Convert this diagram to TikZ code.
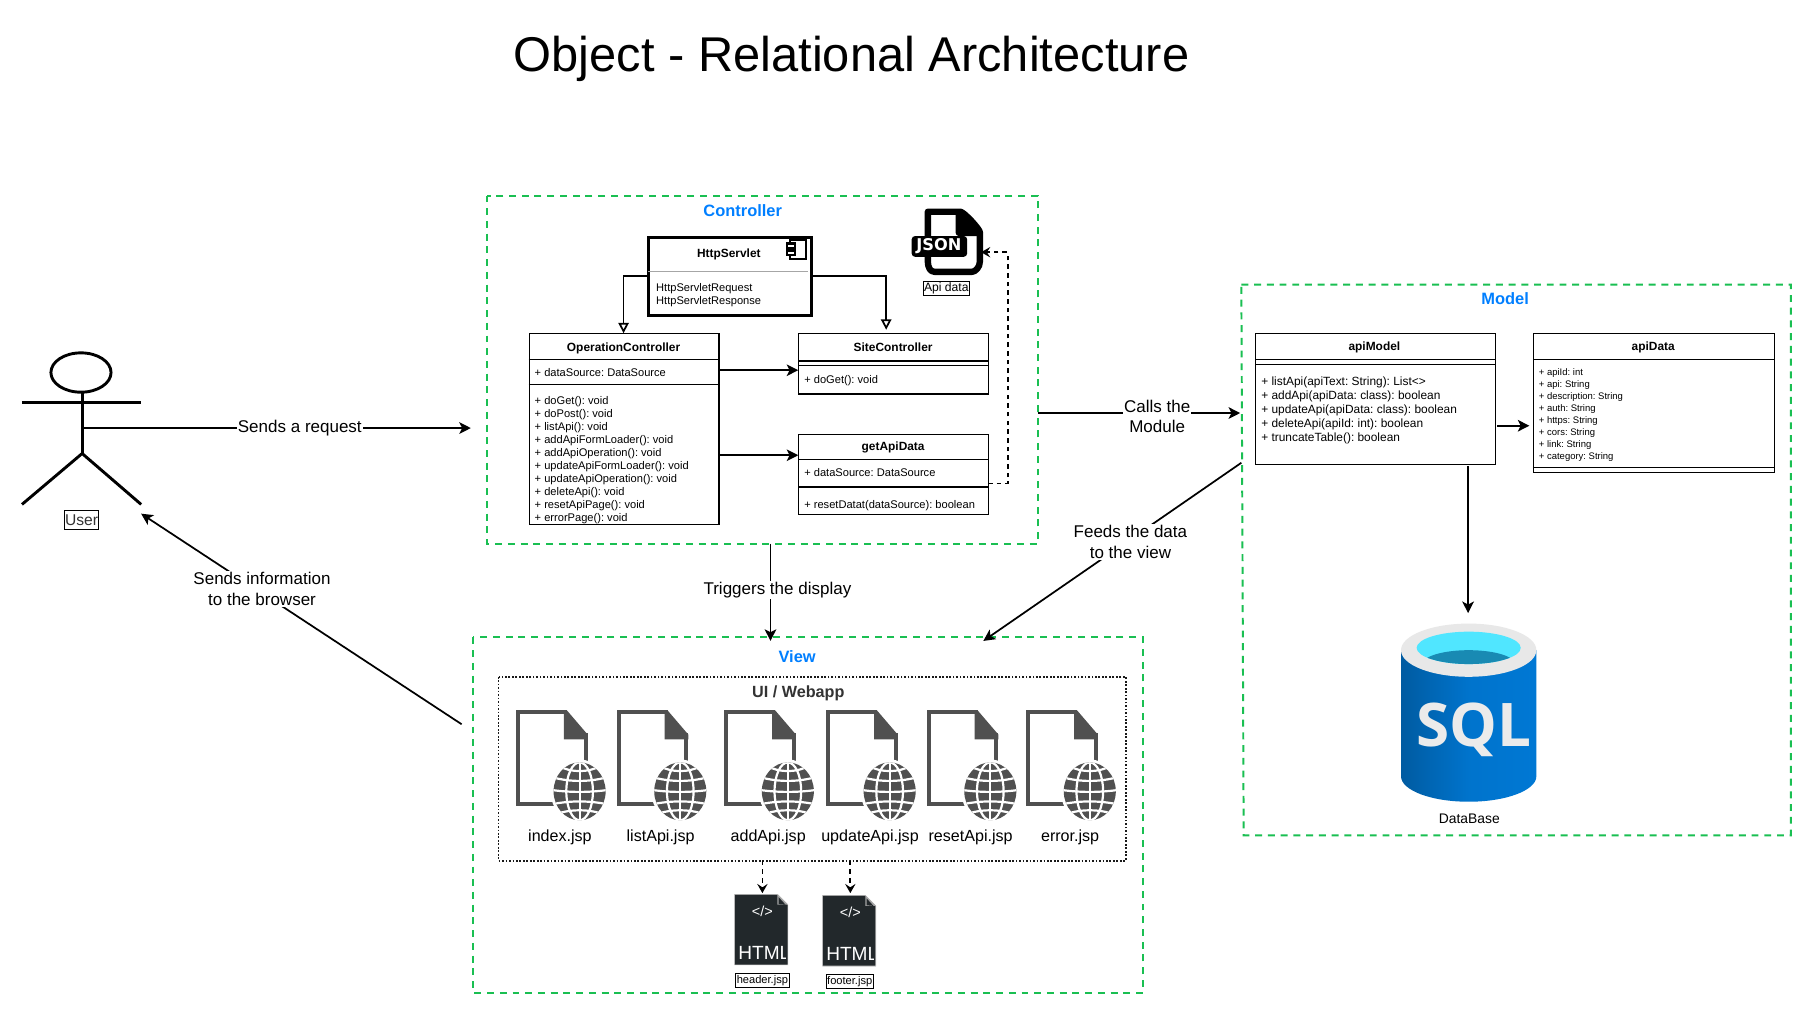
\documentclass[tikz,border=0pt]{standalone}
\usepackage{fontspec}
\setmainfont{Liberation Sans}
\newfontfamily\jsonfont{DejaVu Sans}
\usetikzlibrary{arrows.meta,calc}
\newcommand\fsz[2]{\fontsize{#1}{#2}\selectfont}
\frenchspacing
\definecolor{zgreen}{HTML}{1ABF52}
\definecolor{zblue}{HTML}{007FFF}
\definecolor{zgray}{HTML}{505050}
\definecolor{zdark}{HTML}{22282B}
\definecolor{sqld}{HTML}{005BA1}
\definecolor{sqlm}{HTML}{0078D4}
\definecolor{sqlc}{HTML}{50E6FF}
\definecolor{sqli}{HTML}{198AB3}
\tikzset{
  grp/.style={draw=zgreen,line width=1.7,dash pattern=on 6 off 5},
  grptitle/.style={font=\fsz{14.2}{16}\bfseries,text=zblue,inner sep=0},
  cls/.style={draw=black,line width=1,fill=white,anchor=north west,inner sep=0},
  clstitle/.style={font=\fsz{10.3}{11}\bfseries,inner sep=0},
  members/.style={font=\fsz{9.6}{11.22},inner sep=0,anchor=north west,align=left},
  sepline/.style={line width=1},
  conn/.style={line width=1.5,-{Stealth[length=10,width=10,inset=2.5]}},
  gen/.style={line width=1.5,-{Triangle[open,fill=white,length=9,width=9]}},
  dep/.style={line width=1.5,dash pattern=on 4 off 3.5,-{Stealth[length=8,width=9,inset=3]}},
  lab/.style={font=\fsz{14.7}{18},fill=white,inner sep=1,align=center},
  boxlab/.style={draw=black,line width=0.8,inner sep=0.6,font=\fsz{10.5}{12}},
  jsplab/.style={font=\fsz{13.9}{16},inner sep=0},
  actor/.style={line width=2.5},
  jspicon/.pic={
    \fill[zgray] (41.5,2) -- (44,0) -- (62,21) -- (62,25) -- (41.5,25) -- cycle;
    \draw[zgray,line width=3.5] (60.25,52) -- (60.25,20);
    \draw[zgray,line width=3.5] (44,1.75) -- (1.75,1.75) -- (1.75,81.25) -- (36,81.25);
    \begin{scope}[shift={(55,70)}]
      \fill[white] (0,0) ellipse [x radius=25,y radius=27.5];
      \fill[zgray] (0,0) ellipse [x radius=22.5,y radius=25];
      \begin{scope}
        \clip (0,0) ellipse [x radius=22.5,y radius=25];
        \draw[white,line width=1.9] (0,-25) -- (0,25);
        \draw[white,line width=1.9] (0,0) ellipse [x radius=11.5,y radius=25];
        \draw[white,line width=1.9] (-23,-1) .. controls (-8,1) and (8,1) .. (23,-1);
        \draw[white,line width=1.9] (-23,-12) .. controls (-8,-8) and (8,-8) .. (23,-12);
        \draw[white,line width=1.9] (-23,11) .. controls (-8,8) and (8,8) .. (23,11);
        \draw[white,line width=1.9] (-18,-22) .. controls (-8,-16) and (8,-16) .. (18,-22);
        \draw[white,line width=1.9] (-18,19) .. controls (-8,15.5) and (8,15.5) .. (18,19);
      \end{scope}
    \end{scope}
  },
  htmlicon/.pic={
    \fill[zdark,draw=gray!50,line width=0.5] (0,0) -- (37,0) -- (46,9) -- (46,61) -- (0,61) -- cycle;
    \fill[gray!70!white] (37,0) -- (46,9) -- (37,9) -- cycle;
    \fill[zdark] (38,2.5) -- (44,9) -- (38,8.5) -- cycle;
    \node[white,inner sep=0,font=\fsz{12.5}{13}] (-code) at (24,15) {</>};
    \begin{scope}
      \clip (0,30) rectangle (44,61);
      \node[white,inner sep=0,font=\fsz{16.5}{18},anchor=west] (-txt) at (3,50.5) {HTML};
    \end{scope}
  }
}
\begin{document}
\begin{tikzpicture}[x=1pt,y=-1pt]
\useasboundingbox (0,0) rectangle (1568,879.1);
\fill[white] (0,0) rectangle (1568,879.1);

% title
\node[inner sep=0,font=\fsz{42.2}{48}] (title) at (736,51) {Object - Relational Architecture};

% actor
\draw[actor] (70,322) ellipse [x radius=26,y radius=17];
\coordinate (usr) at (71,370);
\coordinate (usrin) at (122,444);
\draw[actor] (71,339) -- (71,392);
\draw[actor] (19,348) -- (122,348);
\draw[actor] (19,436) -- (71,392) -- (122,436);
\node[boxlab,text=black!80,font=\fsz{13.5}{15},minimum width=29,minimum height=16] (user) at (70.5,449.5) {User};

% group boxes
\draw[grp] (421,169) rectangle (897,470);
\node[grptitle] (ctitle) at (642,182) {Controller};
\coordinate (cb) at (666,470);
\coordinate (cr) at (897,357);
\coordinate (cl) at (407,370);

\draw[grp] (1073,246) -- (1548,246) -- (1548,722) -- (1075,722) -- cycle;
\node[grptitle] (mtitle) at (1301,258) {Model};
\coordinate (ml) at (1072,357);
\coordinate (mf) at (1073,400);

\draw[grp] (409,551) rectangle (988,858);
\node[grptitle] (vtitle) at (689,568) {View};
\coordinate (vt) at (666,554);
\coordinate (vf) at (850,554);
\coordinate (vl) at (399,626);

% HttpServlet
\node[cls,line width=2.6,minimum width=141,minimum height=67] (http) at (559,204) {};
\draw[gray!70,line width=0.8] (560.5,235) -- (698.5,235);
\node[clstitle] (httpt) at (630,220) {HttpServlet};
\node[members] (httpm) at (567,244.5) {HttpServletRequest\\HttpServletResponse};
\draw[black,line width=2,fill=white] (683,207) rectangle (696.5,224);
\draw[black,line width=2,fill=white] (680,210.5) rectangle (687,214.5);
\draw[black,line width=2,fill=white] (680,216.5) rectangle (687,220.5);

% OperationController
\node[cls,minimum width=164,minimum height=165] (op) at (457,288) {};
\node[clstitle] (opt) at (539,301) {OperationController};
\draw[sepline] (457,311) -- (621,311);
\node[members] (opa) at (462,318.5) {+ dataSource: DataSource};
\draw[sepline] (457,332) -- (621,332);
\node[members] (opm) at (462,342.5) {+ doGet(): void\\+ doPost(): void\\+ listApi(): void\\+ addApiFormLoader(): void\\+ addApiOperation(): void\\+ updateApiFormLoader(): void\\+ updateApiOperation(): void\\+ deleteApi(): void\\+ resetApiPage(): void\\+ errorPage(): void};

% SiteController
\node[cls,minimum width=164,minimum height=52] (site) at (690,288) {};
\node[clstitle] (sitet) at (772,300.5) {SiteController};
\draw[sepline] (690,312) -- (854,312);
\draw[sepline] (690,316) -- (854,316);
\node[members] (sitem) at (695,324.5) {+ doGet(): void};

% getApiData
\node[cls,minimum width=164,minimum height=69] (get) at (690,375) {};
\node[clstitle] (gett) at (772,387) {getApiData};
\draw[sepline] (690,397) -- (854,397);
\node[members] (geta) at (695,404.5) {+ dataSource: DataSource};
\draw[sepline] (690,421) -- (854,421);
\node[members] (getm) at (695,432.5) {+ resetDatat(dataSource): boolean};

% JSON icon
\draw[black,line width=5.5,line join=round,fill=white] (802,183) -- (830,183) .. controls (833,183) and (847,198) .. (847,201) -- (847,226) .. controls (847,231) and (843,235) .. (840,235) -- (808,235) .. controls (804,235) and (802,231) .. (802,226) -- cycle;
\fill[black] (826,181) -- (832,181) -- (849,199) -- (849,204) -- (830,204) .. controls (827,204) and (826,203) .. (826,200) -- cycle;
\fill[black,rounded corners=3] (788,204) rectangle (836,222);
\node[text=white,inner sep=0,font=\jsonfont\fsz{14}{15}\bfseries] (json) at (811.5,213) {JSON};
\coordinate (jsonin) at (848,218);
\node[boxlab,font=\fsz{10.5}{12},minimum width=40,minimum height=12] (apidata) at (818,249) {Api data};

% Model: apiModel
\node[cls,minimum width=207,minimum height=113] (am) at (1085,288) {};
\node[clstitle] (amt) at (1188,300.5) {apiModel};
\draw[sepline] (1085,311) -- (1292,311);
\draw[sepline] (1085,315) -- (1292,315);
\node[members,font=\fsz{10.3}{12.2}] (amm) at (1090,325.5) {+ listApi(apiText: String): List<>\\+ addApi(apiData: class): boolean\\+ updateApi(apiData: class): boolean\\+ deleteApi(apiId: int): boolean\\+ truncateTable(): boolean};

% Model: apiData
\node[cls,minimum width=208,minimum height=120] (ad) at (1325,288) {};
\node[clstitle] (adt) at (1429,300.5) {apiData};
\draw[sepline] (1325,311) -- (1533,311);
\node[members,font=\fsz{8.2}{10.4}] (adm) at (1330,318.5) {+ apiId: int\\+ api: String\\+ description: String\\+ auth: String\\+ https: String\\+ cors: String\\+ link: String\\+ category: String};
\draw[sepline] (1325,404) -- (1533,404);

% SQL cylinder
\shade[left color=sqld,right color=sqlm,middle color=sqlm!85!sqld] (1211,562) -- (1211,671) arc [start angle=180,end angle=0,x radius=58.5,y radius=22] -- (1328,562) -- cycle;
\fill[black!9] (1269.5,562) ellipse [x radius=58.5,y radius=23];
\fill[sqlc] (1269.5,560) ellipse [x radius=45,y radius=14];
\begin{scope}
  \clip (1269.5,560) ellipse [x radius=45,y radius=14];
  \fill[sqli] (1269.5,574) ellipse [x radius=40,y radius=12];
\end{scope}
\node[text=white!92!black,inner sep=0,font=\fontspec{Open Sans}\fsz{52}{54}\bfseries] (sql) at (1274,631) {SQL};
\node[inner sep=0,font=\fsz{12}{14}] (dblab) at (1270,707.5) {DataBase};
\coordinate (db) at (1269,530);

% UI box
\draw[black!90,line width=1.5,dash pattern=on 1.5 off 1.5] (431,585) rectangle (973,744);
\node[inner sep=0,font=\fsz{14}{16}\bfseries,text=black!80] (ui) at (690,599) {UI / Webapp};
\pic at (446,614) {jspicon};
\pic at (533,614) {jspicon};
\pic at (626,614) {jspicon};
\pic at (714,614) {jspicon};
\pic at (801,614) {jspicon};
\pic at (887,614) {jspicon};
\node[jsplab] (j1) at (484,724) {index.jsp};
\node[jsplab] (j2) at (571,724) {listApi.jsp};
\node[jsplab] (j3) at (664,724) {addApi.jsp};
\node[jsplab] (j4) at (752,724) {updateApi.jsp};
\node[jsplab] (j5) at (839,724) {resetApi.jsp};
\node[jsplab] (j6) at (925,724) {error.jsp};

% HTML icons
\pic (h1) at (635,773) {htmlicon};
\pic (h2) at (711,774) {htmlicon};
\node[boxlab,minimum width=46,minimum height=12,font=\fsz{9.6}{11}] (hdr) at (659,847.5) {header.jsp};
\node[boxlab,minimum width=41,minimum height=12,font=\fsz{9.6}{11}] (ftr) at (734.5,848.5) {footer.jsp};
\coordinate (ua) at (659,744);
\coordinate (ub) at (735,744);
\coordinate (ha) at (659,772);
\coordinate (hb) at (735,772);
\draw[dep] (ua) -- (ha);
\draw[dep] (ub) -- (hb);

% connectors inside controller
\coordinate (opin) at (539,288);
\coordinate (sitein) at (766,285);
\draw[gen] (http.west) -| (opin);
\draw[gen] (http.east) -| (sitein);
\coordinate (op1) at (621,320);
\coordinate (site1) at (690,320);
\coordinate (op2) at (621,393.5);
\coordinate (get1) at (690,393.5);
\draw[conn] (op1) -- (site1);
\draw[conn] (op2) -- (get1);
\coordinate (getout) at (854,418);
\coordinate (d1) at (871,418);
\coordinate (d2) at (871,218);
\draw[dep] (getout) -- (d1) -- (d2) -- (jsonin);

% model connectors
\coordinate (am1) at (1294,368);
\coordinate (ad1) at (1322,368);
\draw[conn] (am1) -- (ad1);
\coordinate (am2) at (1269,403);
\draw[conn] (am2) -- (db);

% main connectors
\draw[conn] (usr) -- (cl) node[lab,pos=0.56] (l1) {Sends a request};
\draw[conn] (cr) -- (ml) node[lab,pos=0.59,yshift=-3] (l2) {Calls the\\Module};
\draw[conn] (cb) -- (vt) node[lab,pos=0.45,xshift=6,yshift=-2] (l3) {Triggers the display};
\draw[conn] (mf) -- (vf) node[lab,pos=0.43,yshift=-2.5] (l4) {Feeds the data\\to the view};
\draw[conn] (vl) -- (usrin) node[lab,pos=0.63,xshift=2,yshift=2] (l5) {Sends information\\to the browser};
\end{tikzpicture}
\end{document}
